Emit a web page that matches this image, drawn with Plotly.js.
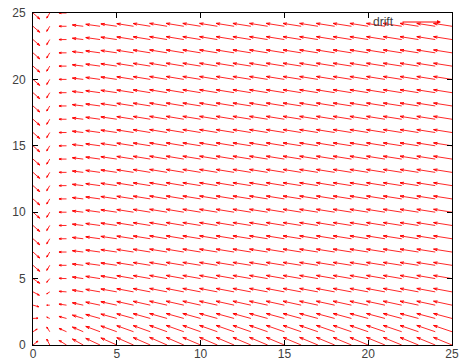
<!DOCTYPE html>
<html>
<head>
<meta charset="utf-8">
<script src="https://cdn.plot.ly/plotly-3.0.1.min.js"></script>
<style>html,body{margin:0;padding:0;background:#fff}#chart{width:464px;height:363px}</style>
</head>
<body>
<div id="chart"></div>
<script>
// grid positions of the vector field
const xs = [0,1,2,3,4,5,6,7,8,9,10,11,12,13,14,15,16,17,18,19,20,21,22,23,24,25];
const ys = [0,1,2,3,4,5,6,7,8,9,10,11,12,13,14,15,16,17,18,19,20,21,22,23,24,25];
// horizontal drift component per column
const uCol = [0.40,-0.18,-0.45,-0.65,-0.85,-0.95,-1.00,-1.02,-1.04,-1.05,-1.06,-1.06,-1.07,-1.07,-1.08,-1.08,-1.08,-1.09,-1.09,-1.09,-1.09,-1.10,-1.10,-1.10,-1.10,-1.10];
// vertical drift component per column, upper rows
const vTop = [-0.45,-0.38,0.00,0.10,0.15,0.18,0.20,0.21,0.22,0.22,0.22,0.22,0.22,0.22,0.22,0.22,0.22,0.22,0.22,0.22,0.22,0.22,0.22,0.22,0.22,0.22];
// bottom rows 0..5: special columns 0 and 1, extra lift for the rest
const uBot0 = [0.30,0.25,0.30,0.35,0.38,0.40];
const vBot0 = [0.30,0.20,0.02,-0.12,-0.25,-0.35];
const vBot1 = [0.45,0.35,0.10,0.00,-0.15,-0.28];
const vBotExtra = [0.35,0.25,0.15,0.08,0.04,0.02];
const legendName = "drift";

const W = 464, H = 363, ML = 33, MR = 12, MT = 13, MB = 18;
const PW = W - ML - MR, PH = H - MT - MB;
const xr = [0,25], yr = [0,25];
const sx = PW/(xr[1]-xr[0]), sy = PH/(yr[1]-yr[0]);

const lx = [], ly = [], hx = [], hy = [];
const eps = 1e-6;
xs.forEach((x,i)=>{
  ys.forEach((y,j)=>{
    let u = uCol[i], v = vTop[i];
    if (j < 6) {
      if (i === 0) { u = uBot0[j]; v = vBot0[j]; }
      else if (i === 1) { v = vBot1[j]; }
      else { v = vTop[i] + vBotExtra[j]; }
    }
    const tx = x+u, ty = y+v;
    if (tx < xr[0]-eps || tx > xr[1]+eps || ty < yr[0]-eps || ty > yr[1]+eps) return;
    lx.push(x, tx, null); ly.push(y, ty, null);
    // small arrow head in pixel space
    const px = u*sx, py = v*sy;
    const len = Math.hypot(px,py);
    if (len < 0.5) return;
    const bx = -px/len, by = -py/len;
    const hl = Math.min(4, len*0.35), a = 16*Math.PI/180;
    [a,-a].forEach(t=>{
      const rx = bx*Math.cos(t) - by*Math.sin(t);
      const ry = bx*Math.sin(t) + by*Math.cos(t);
      hx.push(tx, tx + rx*hl/sx, null);
      hy.push(ty, ty + ry*hl/sy, null);
    });
  });
});

const shafts = {
  x: lx, y: ly, type: 'scatter', mode: 'lines', name: legendName,
  line: {color: 'rgb(255,40,40)', width: 1}, showlegend: false,
  connectgaps: false, hoverinfo: 'skip'
};
const heads = {
  x: hx, y: hy, type: 'scatter', mode: 'lines', name: legendName,
  line: {color: 'rgb(255,0,0)', width: 1}, showlegend: false,
  connectgaps: false, hoverinfo: 'skip'
};

const axisBase = {
  range: [0,25], tickvals: [0,5,10,15,20,25], ticks: 'inside', ticklen: 5,
  tickcolor: '#000', tickwidth: 1, showline: true, linecolor: '#000', linewidth: 1,
  mirror: 'ticks', showgrid: false, zeroline: false, fixedrange: true,
  tickfont: {family: 'Liberation Sans, Arial, sans-serif', size: 12, color: '#404040'}
};

const layout = {
  width: W, height: H,
  margin: {l: ML, r: MR, t: MT, b: MB, pad: 0},
  paper_bgcolor: '#fff', plot_bgcolor: '#fff',
  xaxis: Object.assign({}, axisBase, {ticklabelstandoff: -2}),
  yaxis: Object.assign({}, axisBase, {ticklabelstandoff: 4}),
  showlegend: false,
  annotations: [
    {xref: 'paper', yref: 'paper', x: (396-ML)/PW, y: (H-MB-22)/PH, text: legendName,
     showarrow: false, xanchor: 'right', yanchor: 'middle',
     font: {family: 'Liberation Sans, Arial, sans-serif', size: 12, color: '#404040'}},
    {xref: 'paper', yref: 'paper', x: (441-ML)/PW, y: (H-MB-22)/PH, text: '',
     showarrow: true, ax: -40, ay: 0, arrowcolor: 'rgb(255,0,0)', arrowwidth: 1,
     arrowhead: 2, arrowsize: 0.8, standoff: 0}
  ]
};

Plotly.newPlot('chart', [shafts, heads], layout, {staticPlot: true, displayModeBar: false});
</script>
</body>
</html>
